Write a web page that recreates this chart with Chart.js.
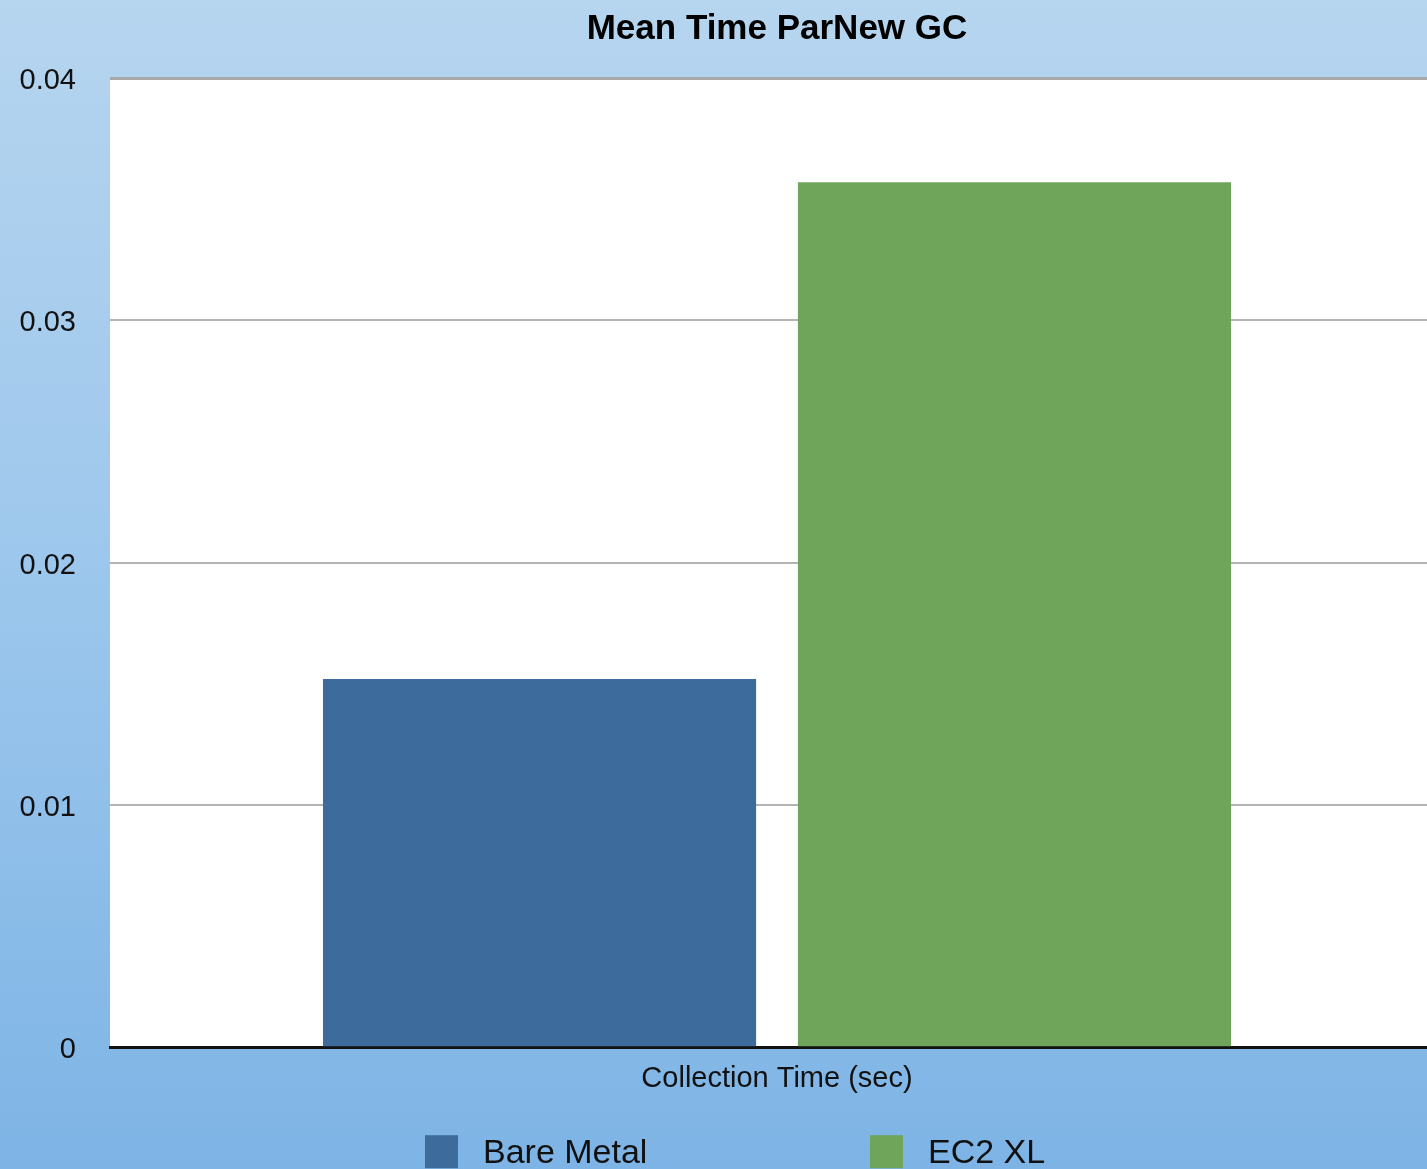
<!DOCTYPE html>
<html>
<head>
<meta charset="utf-8">
<title>Mean Time ParNew GC</title>
<script src="https://cdn.jsdelivr.net/npm/chart.js@4/dist/chart.umd.min.js"></script>
<style>
  html, body { margin: 0; padding: 0; overflow: hidden; background: #7fb5e5; }
  #wrap { width: 1554px; height: 1200px; }
  canvas { display: block; }
</style>
</head>
<body>
<div id="wrap"><canvas id="chart" width="1554" height="1200"></canvas></div>
<script>
// Chart data
const categories = ['Collection Time (sec)'];
const seriesNames = ['Bare Metal', 'EC2 XL'];
const bareMetal = [0.0152];
const ec2Xl = [0.0357];
const seriesColors = ['#3d6c9c', '#6fa55a'];
const yTickValues = [0, 0.01, 0.02, 0.03, 0.04];

const FONT = '"Liberation Sans", Arial, Helvetica, sans-serif';

// Blue gradient backdrop with a white plotting area
const backdrop = {
  id: 'backdrop',
  beforeDraw(chart) {
    const { ctx, width, height, chartArea: a } = chart;
    const g = ctx.createLinearGradient(0, 0, 0, height);
    g.addColorStop(0, '#b6d5ef');
    g.addColorStop(0.5, '#9bc6ec');
    g.addColorStop(1, '#7cb3e5');
    ctx.save();
    ctx.fillStyle = g;
    ctx.fillRect(0, 0, width, height);
    ctx.fillStyle = '#ffffff';
    ctx.fillRect(a.left, a.top, a.right - a.left, a.bottom - a.top);
    ctx.restore();
  }
};

// Legend row drawn under the axis title with a fixed item pitch
const rowLegend = {
  id: 'rowLegend',
  afterDraw(chart, args, opts) {
    const { ctx, chartArea: a } = chart;
    const mid = (a.left + a.right) / 2;
    ctx.save();
    ctx.font = opts.fontSize + 'px ' + FONT;
    ctx.textBaseline = 'middle';
    ctx.textAlign = 'left';
    chart.data.datasets.forEach((ds, i) => {
      const x = mid + opts.startOffset + i * opts.pitch;
      const y = a.bottom + opts.top;
      ctx.fillStyle = ds.backgroundColor;
      ctx.fillRect(x, y, opts.box, opts.box);
      ctx.fillStyle = '#111111';
      ctx.fillText(ds.label, x + opts.box + opts.gap, y + opts.box / 2 + 2);
    });
    ctx.restore();
  }
};

new Chart(document.getElementById('chart'), {
  type: 'bar',
  data: {
    labels: categories,
    datasets: [
      { label: seriesNames[0], data: bareMetal, backgroundColor: seriesColors[0] },
      { label: seriesNames[1], data: ec2Xl, backgroundColor: seriesColors[1] }
    ]
  },
  plugins: [backdrop, rowLegend],
  options: {
    responsive: false,
    animation: false,
    devicePixelRatio: 1,
    categoryPercentage: 0.712,
    barPercentage: 0.912,
    layout: { padding: { left: 0, right: 0, top: 0, bottom: 90 } },
    plugins: {
      legend: { display: false },
      tooltip: { enabled: false },
      title: {
        display: true,
        text: 'Mean Time ParNew GC',
        color: '#000000',
        font: { family: FONT, size: 35, weight: 'bold' },
        padding: { top: 8, bottom: 28 }
      },
      rowLegend: { fontSize: 34, box: 33, gap: 25, startOffset: -352, pitch: 445, top: 88 }
    },
    scales: {
      x: {
        grid: { display: false, drawTicks: false },
        border: { display: true, color: '#111111', width: 3 },
        ticks: {
          color: '#111111',
          padding: 14,
          font: { family: FONT, size: 29 }
        }
      },
      y: {
        min: 0,
        max: 0.04,
        afterFit(scale) { scale.width = 110; },
        afterBuildTicks(scale) { scale.ticks = yTickValues.map(v => ({ value: v })); },
        grid: {
          drawTicks: false,
          color: ctx => ctx.tick && ctx.tick.value === 0.04 ? '#a8a8a8' : '#b4b4b4',
          lineWidth: ctx => ctx.tick && ctx.tick.value === 0.04 ? 3 : 2
        },
        border: { display: false },
        ticks: {
          color: '#111111',
          padding: 34,
          labelOffset: 3,
          font: { family: FONT, size: 29 },
          callback: v => String(v)
        }
      },
      // empty right-hand margin keeping the plot symmetric under the title
      yRight: {
        position: 'right',
        min: 0,
        max: 0.04,
        afterFit(scale) { scale.width = 110; },
        grid: { display: false, drawTicks: false },
        border: { display: false },
        ticks: { display: false }
      }
    }
  }
});
</script>
</body>
</html>
